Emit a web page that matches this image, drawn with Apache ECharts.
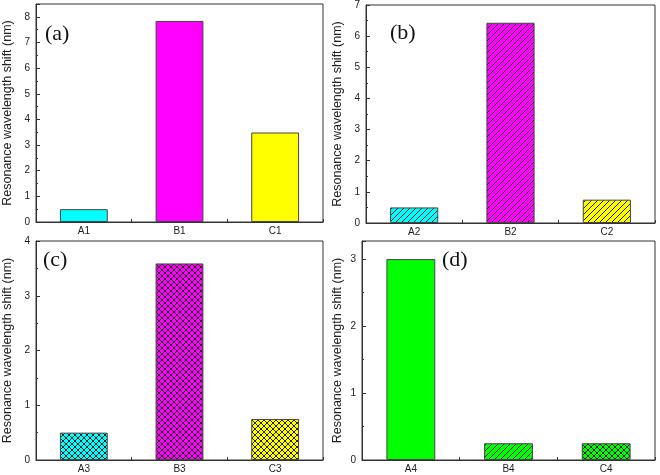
<!DOCTYPE html>
<html><head><meta charset="utf-8">
<script src="https://cdn.jsdelivr.net/npm/echarts@6/dist/echarts.min.js"></script>
<style>html,body{margin:0;padding:0;background:#fff}#c{width:660px;height:475px}</style>
</head><body><div id="c"></div>
<script>
// ---- data ----
const catsA = ['A1', 'B1', 'C1'];
const valsA = [0.5, 7.84, 3.49];
const catsB = ['A2', 'B2', 'C2'];
const valsB = [0.5, 6.43, 0.75];
const catsC = ['A3', 'B3', 'C3'];
const valsC = [0.5, 3.59, 0.75];
const catsD = ['A4', 'B4', 'C4'];
const valsD = [3.0, 0.25, 0.25];
const panelLabels = ['(a)', '(b)', '(c)', '(d)'];
const yMax = [8.5, 7, 4, 3.27];
const yName = 'Resonance wavelength shift (nm)';

const CY = '#00ffff', MG = '#ff00ff', YL = '#ffff00', GR = '#00ff00';

function pattern(fill, type) {
  if (type === 'solid') return fill;
  const s = 6;
  const cv = document.createElement('canvas');
  cv.width = s; cv.height = s;
  const g = cv.getContext('2d');
  g.fillStyle = fill; g.fillRect(0, 0, s, s);
  g.strokeStyle = '#222'; g.lineWidth = 1;
  const diag = (sign) => {
    for (let k = -1; k <= 1; k++) {
      g.beginPath();
      if (sign > 0) { g.moveTo(k * s, s); g.lineTo(k * s + s, 0); }
      else { g.moveTo(k * s, 0); g.lineTo(k * s + s, s); }
      g.stroke();
    }
  };
  if (type === 'diag' || type === 'cross') diag(1);
  if (type === 'cross') diag(-1);
  return { image: cv, repeat: 'repeat' };
}

const panels = [
  { cats: catsA, vals: valsA, styles: [[CY,'solid'],[MG,'solid'],[YL,'solid']], grid: {left:30, top:4, width:293, height:218}, nameGap: 22, lab: [45, 36] },
  { cats: catsB, vals: valsB, styles: [[CY,'diag'],[MG,'diag'],[YL,'diag']], grid: {left:366, top:5, width:289, height:218}, nameGap: 22, lab: [390, 35] },
  { cats: catsC, vals: valsC, styles: [[CY,'cross'],[MG,'cross'],[YL,'cross']], grid: {left:30, top:241, width:293, height:219}, nameGap: 22, lab: [43, 262] },
  { cats: catsD, vals: valsD, styles: [[GR,'solid'],[GR,'diag'],[GR,'cross']], grid: {left:362, top:241, width:293, height:219}, nameGap: 18, lab: [442, 262] }
];

const axisLine = { show: true, lineStyle: { color: '#333', width: 1 } };
const option = {
  animation: false,
  grid: panels.map(p => Object.assign({ show: true, borderColor: '#333', borderWidth: 1, backgroundColor: 'transparent' }, p.grid)),
  xAxis: panels.map((p, i) => ({
    type: 'category', gridIndex: i, data: p.cats,
    axisLine: axisLine,
    axisTick: { show: true, inside: true, length: 3, lineStyle: { color: '#333' } },
    axisLabel: { color: '#222', fontSize: 10, fontFamily: 'Arial, Liberation Sans', margin: 4 }
  })),
  yAxis: panels.map((p, i) => ({
    type: 'value', gridIndex: i, min: 0, max: yMax[i], interval: 1,
    name: yName, nameLocation: 'middle', nameGap: p.nameGap,
    nameTextStyle: { color: '#222', fontSize: 12.5, fontFamily: 'Arial, Liberation Sans' },
    axisLine: axisLine,
    splitLine: { show: false },
    axisTick: { show: true, inside: true, length: 4, lineStyle: { color: '#333' } },
    minorTick: { show: true, inside: true, splitNumber: 2, length: 2, lineStyle: { color: '#333' } },
    axisLabel: { color: '#222', fontSize: 10, fontFamily: 'Arial, Liberation Sans', margin: 6,
      formatter: v => (Math.abs(v - Math.round(v)) < 1e-9 ? String(Math.round(v)) : '') }
  })),
  series: panels.map((p, i) => ({
    type: 'bar', xAxisIndex: i, yAxisIndex: i, barWidth: '50%',
    data: p.vals.map((v, j) => ({ value: v, itemStyle: { color: pattern(p.styles[j][0], p.styles[j][1]) } })),
    itemStyle: { borderColor: '#444', borderWidth: 1 }
  })),
  graphic: panels.map((p, i) => ({
    type: 'text', left: p.lab[0], top: p.lab[1] - 13,
    style: { text: panelLabels[i], fontSize: 22, fontFamily: 'Times New Roman, Liberation Serif, serif', fill: '#111' }
  }))
};
const chart = echarts.init(document.getElementById('c'), null, { renderer: 'canvas' });
chart.setOption(option);
</script></body></html>
